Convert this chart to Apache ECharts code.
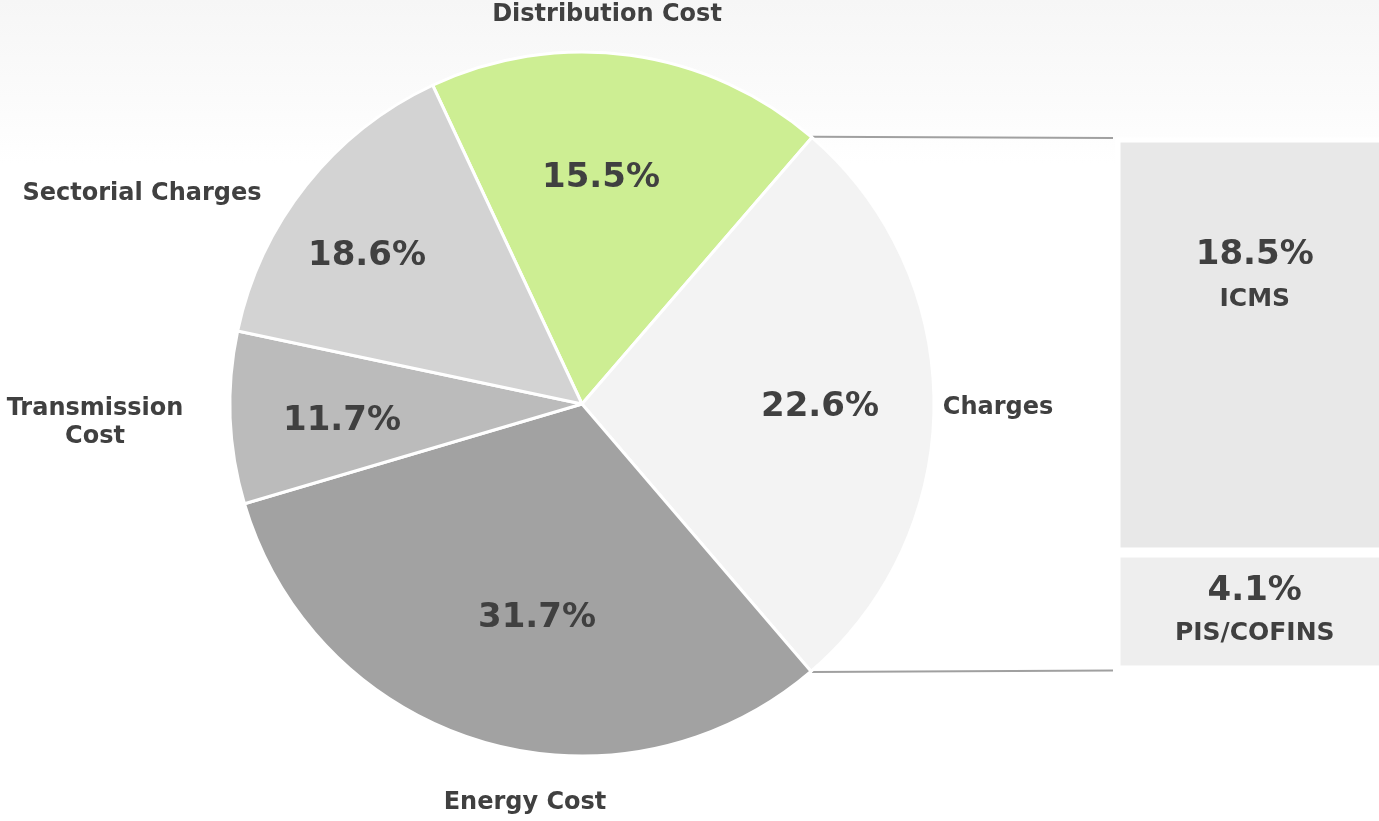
<!DOCTYPE html>
<html><head><meta charset="utf-8">
<script src="https://cdn.jsdelivr.net/npm/echarts@6/dist/echarts.min.js"></script>
<style>html,body{margin:0;padding:0;background:#fff}#c{width:1379px;height:821px}</style>
</head><body><div id="c"></div>
<script>
// ---- data ----
const categories = ['Distribution Cost', 'Charges', 'Energy Cost', 'Transmission\nCost', 'Sectorial Charges'];
const percentLabels = ['15.5%', '22.6%', '31.7%', '11.7%', '18.6%'];
// slice sizes as drawn in the picture (share of the circle, %)
const sliceShares = [18.3, 27.4, 31.7, 7.9, 14.7];
const taxCategories = ['ICMS', 'PIS/COFINS'];
const taxLabels = ['18.5%', '4.1%'];
// box sizes as drawn in the picture
const taxShares = [17.6, 5.0];

// ---- styles / layout ----
const sliceColors = ['#cdee93', '#f3f3f3', '#a2a2a2', '#bbbbbb', '#d3d3d3'];
const taxColors = ['#e8e8e8', '#eeeeee'];
const FONT = 'DejaVu Sans';
const TXT = '#404040';
const CX = 582, CY = 404, R = 352, START = 115.1;
const namePos = [[607, 15], [998, 408], [525, 803], [95, 423], [142, 194]];
const pctPos = [[601, 178], [820, 407], [537, 618], [342, 421], [367, 256]];

const chart = echarts.init(document.getElementById('c'), null, {renderer: 'canvas'});

const pieData = categories.map((n, i) => ({
  name: n, value: sliceShares[i], itemStyle: {color: sliceColors[i]}
}));
const ringData = categories.map((n, i) => ({
  name: n, value: sliceShares[i], label: {formatter: percentLabels[i]}
}));

const taxTotal = taxShares.reduce((a, b) => a + b, 0);

const option = {
  animation: false,
  backgroundColor: {
    type: 'linear', x: 0, y: 0, x2: 0, y2: 1,
    colorStops: [{offset: 0, color: '#f6f6f6'}, {offset: 0.12, color: '#fbfbfb'}, {offset: 0.2, color: '#ffffff'}, {offset: 1, color: '#ffffff'}]
  },
  grid: {left: 1115.5, right: -15, top: 137.5, bottom: 150.5, outerBoundsMode: 'none', containLabel: false},
  xAxis: {type: 'category', data: ['Charges'], show: false},
  yAxis: {type: 'value', min: 0, max: taxTotal, inverse: true, show: false},
  series: [
    {
      type: 'pie', center: [CX, CY], radius: [0, R], startAngle: START, clockwise: true,
      silent: true, data: pieData,
      itemStyle: {borderColor: '#ffffff', borderWidth: 3},
      label: {
        show: true, position: 'outside', formatter: '{b}', overflow: 'none',
        fontFamily: FONT, fontWeight: 'bold', fontSize: 24, color: TXT, lineHeight: 28
      },
      labelLine: {show: false},
      labelLayout: function (p) {
        const q = namePos[p.dataIndex];
        return {x: q[0], y: q[1], align: 'center', verticalAlign: 'middle'};
      }
    },
    {
      type: 'pie', center: [CX, CY], radius: [120, R], startAngle: START, clockwise: true,
      silent: true, data: ringData,
      itemStyle: {color: 'rgba(0,0,0,0)'},
      label: {
        show: true, position: 'inside', overflow: 'none',
        fontFamily: FONT, fontWeight: 'bold', fontSize: 34, color: TXT
      },
      labelLine: {show: false},
      labelLayout: function (p) {
        const q = pctPos[p.dataIndex];
        return {x: q[0], y: q[1], align: 'center', verticalAlign: 'middle'};
      }
    },
    {
      type: 'bar', stack: 'tax', barWidth: '100%', silent: true,
      data: [{
        value: taxShares[0],
        label: {position: 'insideTop', distance: 96}
      }],
      itemStyle: {color: taxColors[0], borderColor: '#ffffff', borderWidth: 5},
      label: {
        show: true, formatter: '{v|' + taxLabels[0] + '}\n{n|' + taxCategories[0] + '}',
        rich: {
          v: {fontFamily: FONT, fontWeight: 'bold', fontSize: 34, color: TXT, lineHeight: 44, align: 'center'},
          n: {fontFamily: FONT, fontWeight: 'bold', fontSize: 25, color: TXT, lineHeight: 44, align: 'center'}
        }
      }
    },
    {
      type: 'bar', stack: 'tax', barWidth: '100%', silent: true,
      data: [{value: taxShares[1]}],
      itemStyle: {color: taxColors[1], borderColor: '#ffffff', borderWidth: 5},
      label: {
        show: true, position: 'inside', offset: [0, 1],
        formatter: '{v|' + taxLabels[1] + '}\n{n|' + taxCategories[1] + '}',
        rich: {
          v: {fontFamily: FONT, fontWeight: 'bold', fontSize: 34, color: TXT, lineHeight: 42, align: 'center'},
          n: {fontFamily: FONT, fontWeight: 'bold', fontSize: 25, color: TXT, lineHeight: 42, align: 'center'}
        }
      }
    }
  ]
};
chart.setOption(option);

// connector lines from the Charges slice edges to the breakdown box
const a1 = (START - sliceShares[0] * 3.6) * Math.PI / 180;
const a2 = (START - (sliceShares[0] + sliceShares[1]) * 3.6) * Math.PI / 180;
const Re = R + 1;
const p1 = [CX + Re * Math.cos(a1), CY - Re * Math.sin(a1)];
const p2 = [CX + Re * Math.cos(a2), CY - Re * Math.sin(a2)];
const yTop = chart.convertToPixel({yAxisIndex: 0}, 0);
const yBot = chart.convertToPixel({yAxisIndex: 0}, taxTotal);
const xLeft = option.grid.left - 2.5;
chart.setOption({
  graphic: [
    {type: 'line', silent: true, shape: {x1: p1[0], y1: p1[1], x2: xLeft, y2: yTop + 0.5}, style: {stroke: '#a0a0a0', lineWidth: 2}},
    {type: 'line', silent: true, shape: {x1: p2[0], y1: p2[1], x2: xLeft, y2: yBot}, style: {stroke: '#a0a0a0', lineWidth: 2}}
  ]
});
</script>
</body></html>
